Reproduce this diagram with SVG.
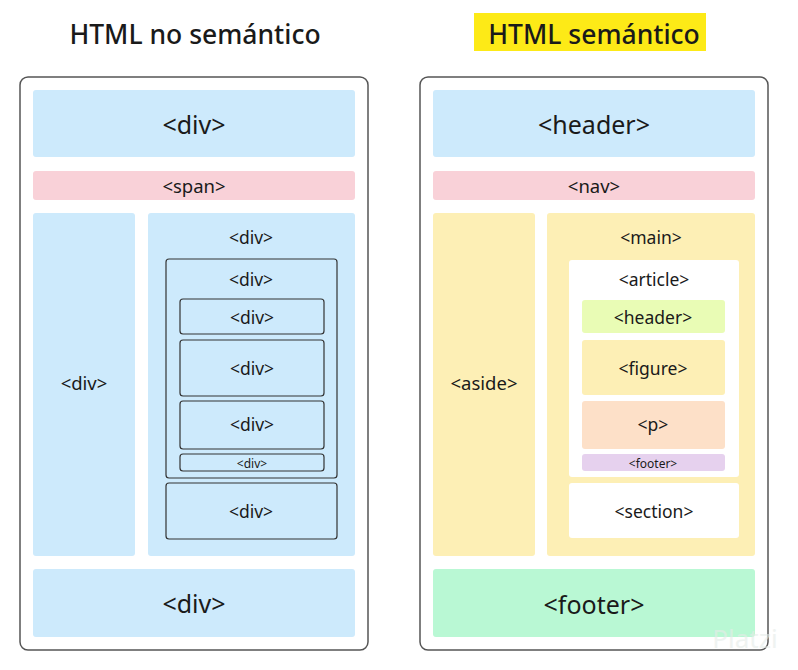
<svg xmlns="http://www.w3.org/2000/svg" width="798" height="670" viewBox="0 0 798 670">
<style>
text{font-family:"Noto Sans","Liberation Sans",sans-serif;fill:#1a1a1a;text-anchor:middle;dominant-baseline:central}
.frame{fill:#fff;stroke:#555;stroke-width:1.5}
.blue{fill:#cdeafc}.pink{fill:#f9d1d8}.yel{fill:#fdefb5}.wht{fill:#fff}.lg{fill:#e9fcb5}.peach{fill:#fde0c8}.pur{fill:#e6d1ee}.grn{fill:#b9f8d4}
.box{fill:none;stroke:#333;stroke-width:1.2}
.t1{font-size:25px}.t2{font-size:18.5px}.t3{font-size:17.5px}.t4{font-size:12px}.h{font-size:26.5px;font-weight:500}
</style>
<rect width="798" height="670" fill="#fff"/>
<g id="titles">
<text class="h" x="195" y="34">HTML no semántico</text>
<rect x="474" y="13" width="232" height="38" fill="#fdea17"/>
<text class="h" x="594" y="34">HTML semántico</text>
</g>
<g id="left">
<rect class="frame" x="20" y="77" width="348" height="573" rx="8"/>
<g id="l-div1"><rect class="blue" x="33" y="90" width="322" height="67" rx="3"/><text class="t1" x="194" y="124">&lt;div&gt;</text></g>
<g id="l-span"><rect class="pink" x="33" y="171" width="322" height="29" rx="3"/><text class="t2" x="194" y="185">&lt;span&gt;</text></g>
<g id="l-side"><rect class="blue" x="33" y="213" width="102" height="343" rx="3"/><text class="t2" x="84" y="382">&lt;div&gt;</text></g>
<g id="l-main"><rect class="blue" x="148" y="213" width="207" height="343" rx="3"/><text class="t3" x="251" y="237">&lt;div&gt;</text></g>
<g id="l-inner"><rect class="box" x="166" y="259" width="171" height="219" rx="3"/><text class="t3" x="251" y="279">&lt;div&gt;</text></g>
<g id="l-d1"><rect class="box" x="180" y="299" width="144" height="35" rx="3"/><text class="t3" x="252" y="317">&lt;div&gt;</text></g>
<g id="l-d2"><rect class="box" x="180" y="340" width="144" height="56" rx="3"/><text class="t3" x="252" y="368">&lt;div&gt;</text></g>
<g id="l-d3"><rect class="box" x="180" y="401" width="144" height="48" rx="3"/><text class="t3" x="252" y="424">&lt;div&gt;</text></g>
<g id="l-d4"><rect class="box" x="180" y="454" width="144" height="17" rx="3"/><text class="t4" x="252" y="463">&lt;div&gt;</text></g>
<g id="l-d5"><rect class="box" x="166" y="483" width="171" height="56" rx="3"/><text class="t3" x="251" y="511">&lt;div&gt;</text></g>
<g id="l-foot"><rect class="blue" x="33" y="569" width="322" height="68" rx="3"/><text class="t1" x="194" y="603">&lt;div&gt;</text></g>
</g>
<g id="right">
<rect class="frame" x="420" y="77" width="348" height="573" rx="8"/>
<g id="r-header"><rect class="blue" x="433" y="90" width="322" height="67" rx="3"/><text class="t1" x="594" y="124">&lt;header&gt;</text></g>
<g id="r-nav"><rect class="pink" x="433" y="171" width="322" height="29" rx="3"/><text class="t2" x="594" y="185">&lt;nav&gt;</text></g>
<g id="r-aside"><rect class="yel" x="433" y="213" width="102" height="343" rx="3"/><text class="t2" x="484" y="382">&lt;aside&gt;</text></g>
<g id="r-main"><rect class="yel" x="547" y="213" width="208" height="343" rx="3"/><text class="t3" x="651" y="237">&lt;main&gt;</text></g>
<g id="r-article"><rect class="wht" x="569" y="260" width="170" height="217" rx="3"/><text class="t3" x="654" y="279">&lt;article&gt;</text></g>
<g id="r-h2"><rect class="lg" x="582" y="300" width="143" height="33" rx="3"/><text class="t3" x="653" y="317">&lt;header&gt;</text></g>
<g id="r-fig"><rect class="yel" x="582" y="340" width="143" height="55" rx="3"/><text class="t3" x="653" y="368">&lt;figure&gt;</text></g>
<g id="r-p"><rect class="peach" x="582" y="401" width="143" height="48" rx="3"/><text class="t3" x="653" y="424">&lt;p&gt;</text></g>
<g id="r-f2"><rect class="pur" x="582" y="454" width="143" height="17" rx="3"/><text class="t4" x="653" y="463">&lt;footer&gt;</text></g>
<g id="r-section"><rect class="wht" x="569" y="483" width="170" height="55" rx="3"/><text class="t3" x="654" y="511">&lt;section&gt;</text></g>
<g id="r-footer"><rect class="grn" x="433" y="569" width="322" height="68" rx="3"/><text class="t1" x="594" y="604">&lt;footer&gt;</text></g>
</g>
<g id="connectors"/>
<text x="745" y="638" style="font-size:26px;fill:#e6ece8;opacity:0.6">Platzi</text>
</svg>
